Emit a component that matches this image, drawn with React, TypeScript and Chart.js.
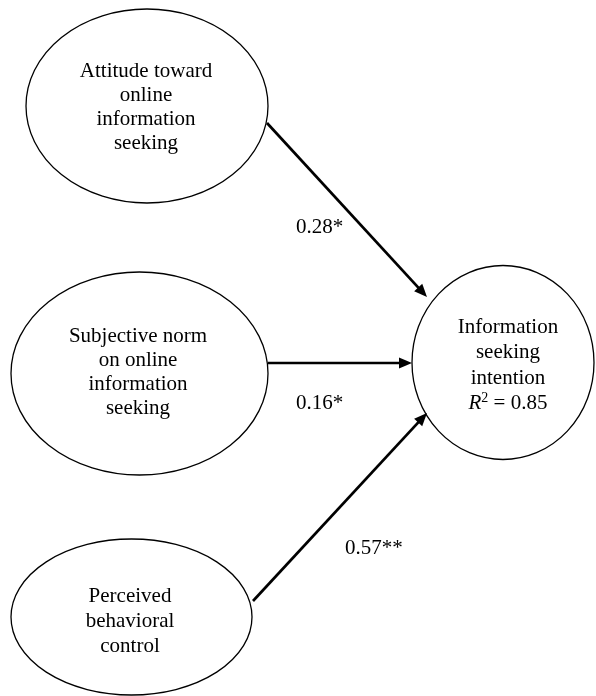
import React, { useEffect, useRef } from "react";
import { Chart, registerables } from "chart.js";

Chart.register(...registerables);

// ---- Diagram data (data-space units, same scale as the 596x696 canvas) ----
const nodeLines: string[][] = [
  ["Attitude toward", "online", "information", "seeking"],
  ["Subjective norm", "on online", "information", "seeking"],
  ["Perceived", "behavioral", "control"],
  ["Information", "seeking", "intention", "R2"],
];
const nodeCenterX = [147, 139.5, 131.5, 503];
const nodeCenterY = [106, 373.5, 617, 362.5];
const nodeRadiusX = [121, 128.5, 120.5, 91];
const nodeRadiusY = [97, 101.5, 78, 97];
const nodeTextX = [146, 138, 130, 508];
const nodeTextMidBaseline = [113, 377.5, 627, 371];
const nodeLineGap = [24, 24, 25, 25.5];

const rSquared = "0.85";

const pathCoefficients = ["0.28*", "0.16*", "0.57**"];
const pathFromX = [267, 268, 253];
const pathFromY = [123, 363, 601];
const pathToX = [427, 412, 427];
const pathToY = [297, 363, 413];
const coefLabelX = [296, 296, 345];
const coefLabelY = [233, 409, 554];

const FONT_FAMILY = "'Liberation Serif', 'Times New Roman', 'DejaVu Serif', serif";
const FONT_SIZE = 21;

const diagramPlugin = {
  id: "pathDiagram",
  afterDatasetsDraw(chart: any) {
    const ctx: CanvasRenderingContext2D = chart.ctx;
    const xs = chart.scales.x;
    const ys = chart.scales.y;
    const px = (v: number) => xs.getPixelForValue(v);
    const py = (v: number) => ys.getPixelForValue(v);

    ctx.save();
    // ellipses
    ctx.strokeStyle = "#000";
    ctx.lineWidth = 1.3;
    for (let i = 0; i < nodeCenterX.length; i++) {
      const cx = px(nodeCenterX[i]);
      const cy = py(nodeCenterY[i]);
      const rx = Math.abs(px(nodeCenterX[i] + nodeRadiusX[i]) - cx);
      const ry = Math.abs(py(nodeCenterY[i] + nodeRadiusY[i]) - cy);
      ctx.beginPath();
      ctx.ellipse(cx, cy, rx, ry, 0, 0, Math.PI * 2);
      ctx.stroke();
    }

    // node text
    ctx.fillStyle = "#000";
    ctx.textBaseline = "alphabetic";
    const normalFont = `${FONT_SIZE}px ${FONT_FAMILY}`;
    for (let i = 0; i < nodeLines.length; i++) {
      const lines = nodeLines[i];
      const n = lines.length;
      const tx = px(nodeTextX[i]);
      for (let j = 0; j < n; j++) {
        const by = py(nodeTextMidBaseline[i] + (j - (n - 1) / 2) * nodeLineGap[i]);
        if (lines[j] === "R2") {
          const italic = `italic ${FONT_SIZE}px ${FONT_FAMILY}`;
          const sup = `14px ${FONT_FAMILY}`;
          const rest = ` = ${rSquared}`;
          ctx.font = italic;
          const wR = ctx.measureText("R").width;
          ctx.font = sup;
          const w2 = ctx.measureText("2").width;
          ctx.font = normalFont;
          const wRest = ctx.measureText(rest).width;
          let x0 = tx - (wR + w2 + wRest) / 2;
          ctx.textAlign = "left";
          ctx.font = italic;
          ctx.fillText("R", x0, by);
          x0 += wR;
          ctx.font = sup;
          ctx.fillText("2", x0, by - 7);
          x0 += w2;
          ctx.font = normalFont;
          ctx.fillText(rest, x0, by);
        } else {
          ctx.font = normalFont;
          ctx.textAlign = "center";
          ctx.fillText(lines[j], tx, by);
        }
      }
    }

    // arrowheads
    for (let k = 0; k < pathToX.length; k++) {
      const x1 = px(pathFromX[k]);
      const y1 = py(pathFromY[k]);
      const x2 = px(pathToX[k]);
      const y2 = py(pathToY[k]);
      const ang = Math.atan2(y2 - y1, x2 - x1);
      const len = 13;
      const half = 5.5;
      const bx = x2 - len * Math.cos(ang);
      const by = y2 - len * Math.sin(ang);
      ctx.beginPath();
      ctx.moveTo(x2, y2);
      ctx.lineTo(bx + half * Math.sin(ang), by - half * Math.cos(ang));
      ctx.lineTo(bx - half * Math.sin(ang), by + half * Math.cos(ang));
      ctx.closePath();
      ctx.fill();
    }

    // coefficient labels
    ctx.font = normalFont;
    ctx.textAlign = "left";
    for (let k = 0; k < pathCoefficients.length; k++) {
      ctx.fillText(pathCoefficients[k], px(coefLabelX[k]), py(coefLabelY[k]));
    }
    ctx.restore();
  },
};

export default function App() {
  const canvasRef = useRef<HTMLCanvasElement | null>(null);

  useEffect(() => {
    document.body.style.margin = "0";
    const canvas = canvasRef.current;
    if (!canvas) return;

    const datasets = pathFromX.map((_, k) => {
      // shaft stops just short of the tip so the arrowhead point stays sharp
      const dx = pathToX[k] - pathFromX[k];
      const dy = pathToY[k] - pathFromY[k];
      const d = Math.hypot(dx, dy);
      const shorten = 6;
      return {
        label: pathCoefficients[k],
        data: [
          { x: pathFromX[k], y: pathFromY[k] },
          { x: pathToX[k] - (dx / d) * shorten, y: pathToY[k] - (dy / d) * shorten },
        ],
        showLine: true,
        borderColor: "#000",
        backgroundColor: "#000",
        borderWidth: 2.7,
        pointRadius: 0,
        pointHoverRadius: 0,
        borderCapStyle: "butt" as const,
      };
    });

    const chart = new Chart(canvas, {
      type: "scatter",
      data: { datasets },
      options: {
        animation: false,
        responsive: false,
        maintainAspectRatio: false,
        layout: { padding: 0 },
        plugins: { legend: { display: false }, tooltip: { enabled: false } },
        events: [],
        scales: {
          x: { type: "linear", min: 0, max: 596, display: false },
          y: { type: "linear", min: 0, max: 696, reverse: true, display: false },
        },
      },
      plugins: [diagramPlugin],
    });
    return () => chart.destroy();
  }, []);

  return (
    <div style={{ width: 596, height: 696, background: "#fff" }}>
      <canvas ref={canvasRef} width={596} height={696} style={{ display: "block", width: 596, height: 696 }} />
    </div>
  );
}
